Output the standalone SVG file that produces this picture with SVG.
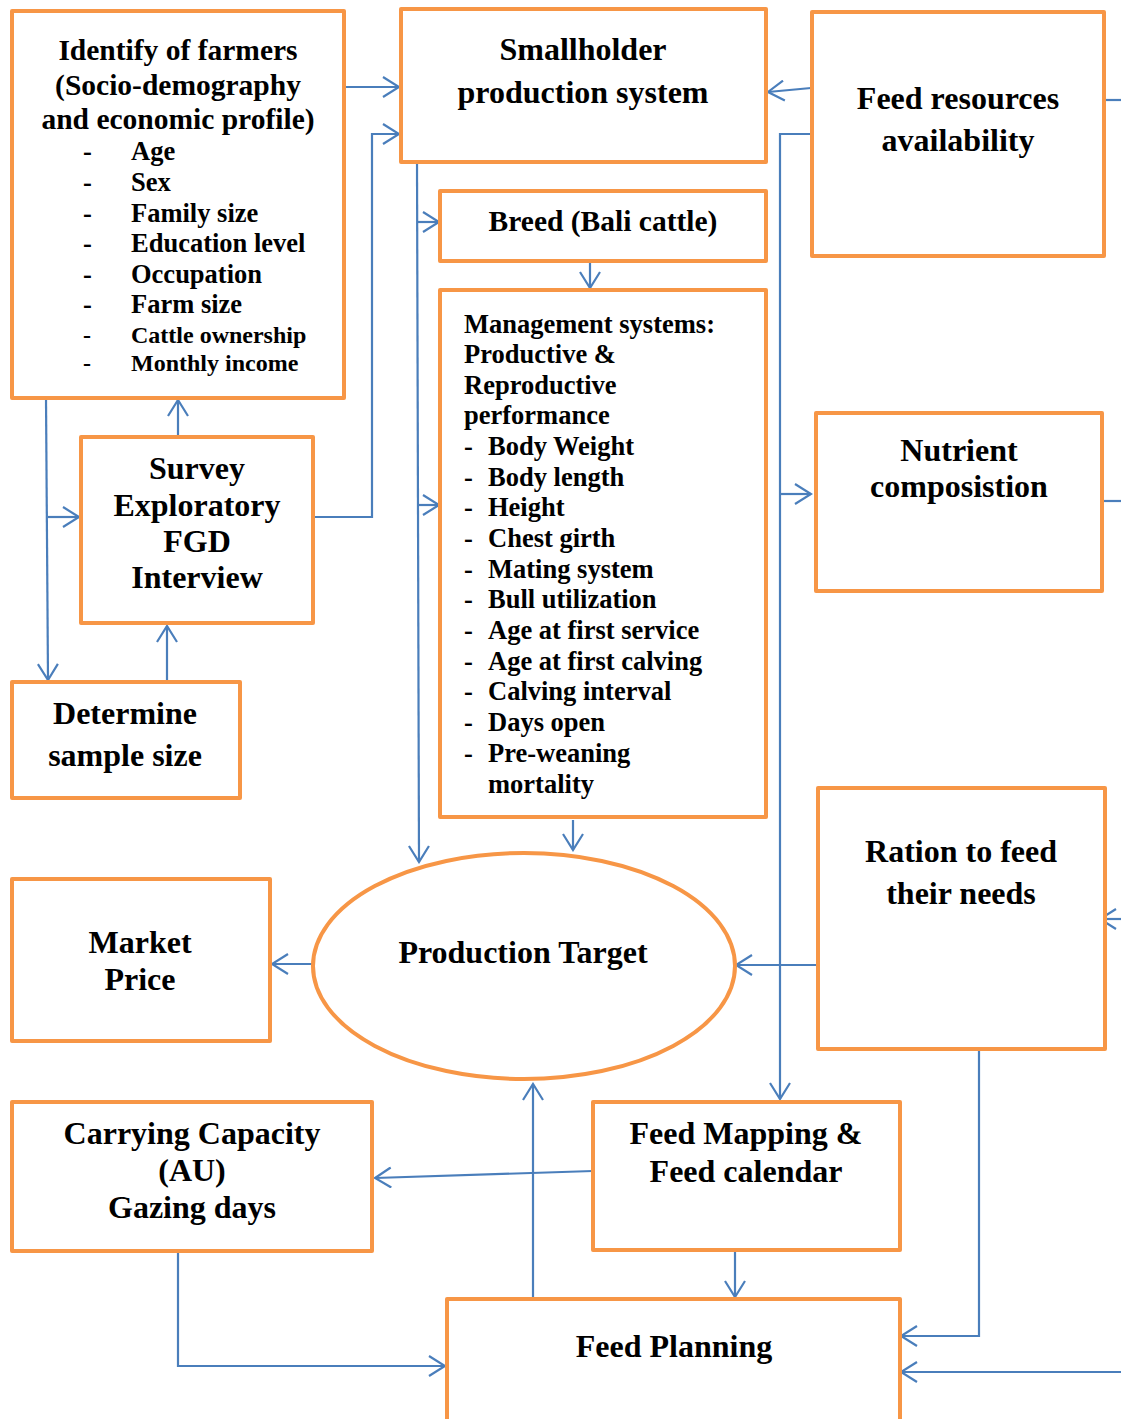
<svg xmlns="http://www.w3.org/2000/svg" width="1121" height="1419" viewBox="0 0 1121 1419">
<style>
.box{fill:#fff;stroke:#F79646;stroke-width:4;stroke-linejoin:round}
.c{fill:none;stroke:#4A7EBB;stroke-width:2.2}
.t{font-family:"Liberation Serif","Times New Roman",serif;font-weight:bold;fill:#000}
.big{font-size:32px;text-anchor:middle}
.mid{font-size:29.5px;text-anchor:middle}
.li{font-size:26.5px}
.ls{font-size:24px}
</style>
<defs>
<marker id="ah" markerUnits="userSpaceOnUse" markerWidth="20" markerHeight="22" viewBox="0 0 20 22" refX="18" refY="11" orient="auto">
<path d="M2,1 L18,11 L2,21" fill="none" stroke="#4A7EBB" stroke-width="2.2"/>
</marker>
</defs>
<rect width="1121" height="1419" fill="#fff"/>

<g id="connectors">
<path class="c" d="M344,87 H399" marker-end="url(#ah)"/>
<path class="c" d="M313,517 H372 V134 H399" marker-end="url(#ah)"/>
<path class="c" d="M417,162 L419,862" marker-end="url(#ah)"/>
<path class="c" d="M417,222 H439" marker-end="url(#ah)"/>
<path class="c" d="M418,505 H439" marker-end="url(#ah)"/>
<path class="c" d="M590,262 V288" marker-end="url(#ah)"/>
<path class="c" d="M573,820 V850" marker-end="url(#ah)"/>
<path class="c" d="M811,88 L768,92" marker-end="url(#ah)"/>
<path class="c" d="M811,134 H780 V1099" marker-end="url(#ah)"/>
<path class="c" d="M780,494 H811" marker-end="url(#ah)"/>
<path class="c" d="M1104,100 H1121"/>
<path class="c" d="M1102,501 H1121"/>
<path class="c" d="M1121,919 H1100" marker-end="url(#ah)"/>
<path class="c" d="M1121,1372 H901" marker-end="url(#ah)"/>
<path class="c" d="M818,965 H736" marker-end="url(#ah)"/>
<path class="c" d="M979,1051 V1336 H901" marker-end="url(#ah)"/>
<path class="c" d="M313,964 H272" marker-end="url(#ah)"/>
<path class="c" d="M46,398 L48,680" marker-end="url(#ah)"/>
<path class="c" d="M48,517 H79" marker-end="url(#ah)"/>
<path class="c" d="M178,437 V400" marker-end="url(#ah)"/>
<path class="c" d="M167,682 V626" marker-end="url(#ah)"/>
<path class="c" d="M593,1171 L375,1178" marker-end="url(#ah)"/>
<path class="c" d="M533,1298 V1084" marker-end="url(#ah)"/>
<path class="c" d="M735,1252 V1297" marker-end="url(#ah)"/>
<path class="c" d="M178,1252 V1366 H445" marker-end="url(#ah)"/>
</g>

<g id="identify">
<rect class="box" x="12" y="11" width="332" height="387"/>
<text class="t mid" x="178" y="60">Identify of farmers</text>
<text class="t mid" x="178" y="95">(Socio-demography</text>
<text class="t mid" x="178" y="129">and economic profile)</text>
<g class="t li">
<text x="83" y="160">-</text><text x="131" y="160">Age</text>
<text x="83" y="191">-</text><text x="131" y="191">Sex</text>
<text x="83" y="222">-</text><text x="131" y="222">Family size</text>
<text x="83" y="252">-</text><text x="131" y="252">Education level</text>
<text x="83" y="283">-</text><text x="131" y="283">Occupation</text>
<text x="83" y="313">-</text><text x="131" y="313">Farm size</text>
</g>
<g class="t ls">
<text x="83" y="343">-</text><text x="131" y="343">Cattle ownership</text>
<text x="83" y="371">-</text><text x="131" y="371">Monthly income</text>
</g>
</g>

<g id="smallholder">
<rect class="box" x="401" y="9" width="365" height="153"/>
<text class="t big" x="583" y="60">Smallholder</text>
<text class="t big" x="583" y="103">production system</text>
</g>

<g id="breed">
<rect class="box" x="440" y="191" width="326" height="70"/>
<text class="t mid" x="603" y="231">Breed (Bali cattle)</text>
</g>

<g id="management">
<rect class="box" x="440" y="290" width="326" height="527"/>
<g class="t li">
<text x="464" y="333">Management systems:</text>
<text x="464" y="363">Productive &amp;</text>
<text x="464" y="394">Reproductive</text>
<text x="464" y="424">performance</text>
<text x="464" y="455">-</text><text x="488" y="455">Body Weight</text>
<text x="464" y="486">-</text><text x="488" y="486">Body length</text>
<text x="464" y="516">-</text><text x="488" y="516">Height</text>
<text x="464" y="547">-</text><text x="488" y="547">Chest girth</text>
<text x="464" y="578">-</text><text x="488" y="578">Mating system</text>
<text x="464" y="608">-</text><text x="488" y="608">Bull utilization</text>
<text x="464" y="639">-</text><text x="488" y="639">Age at first service</text>
<text x="464" y="670">-</text><text x="488" y="670">Age at first calving</text>
<text x="464" y="700">-</text><text x="488" y="700">Calving interval</text>
<text x="464" y="731">-</text><text x="488" y="731">Days open</text>
<text x="464" y="762">-</text><text x="488" y="762">Pre-weaning</text>
<text x="488" y="793">mortality</text>
</g>
</g>

<g id="feed-resources">
<rect class="box" x="812" y="12" width="292" height="244"/>
<text class="t big" x="958" y="109">Feed resources</text>
<text class="t big" x="958" y="151">availability</text>
</g>

<g id="nutrient">
<rect class="box" x="816" y="413" width="286" height="178"/>
<text class="t big" x="959" y="461">Nutrient</text>
<text class="t big" x="959" y="497">composistion</text>
</g>

<g id="survey">
<rect class="box" x="81" y="437" width="232" height="186"/>
<text class="t big" x="197" y="479">Survey</text>
<text class="t big" x="197" y="516">Exploratory</text>
<text class="t big" x="197" y="552">FGD</text>
<text class="t big" x="197" y="588">Interview</text>
</g>

<g id="determine">
<rect class="box" x="12" y="682" width="228" height="116"/>
<text class="t big" x="125" y="724">Determine</text>
<text class="t big" x="125" y="766">sample size</text>
</g>

<g id="market">
<rect class="box" x="12" y="879" width="258" height="162"/>
<text class="t big" x="140" y="953">Market</text>
<text class="t big" x="140" y="990">Price</text>
</g>

<g id="production-target">
<ellipse cx="524" cy="966" rx="211" ry="113" fill="#fff" stroke="#F79646" stroke-width="4"/>
<text class="t big" x="523" y="963">Production Target</text>
</g>

<g id="ration">
<rect class="box" x="818" y="788" width="287" height="261"/>
<text class="t big" x="961" y="862">Ration to feed</text>
<text class="t big" x="961" y="904">their needs</text>
</g>

<g id="carrying">
<rect class="box" x="12" y="1102" width="360" height="149"/>
<text class="t big" x="192" y="1144">Carrying Capacity</text>
<text class="t big" x="192" y="1181">(AU)</text>
<text class="t big" x="192" y="1218">Gazing days</text>
</g>

<g id="feed-mapping">
<rect class="box" x="593" y="1102" width="307" height="148"/>
<text class="t big" x="746" y="1144">Feed Mapping &amp;</text>
<text class="t big" x="746" y="1182">Feed calendar</text>
</g>

<g id="feed-planning">
<rect class="box" x="447" y="1299" width="453" height="130"/>
<text class="t big" x="674" y="1357">Feed Planning</text>
</g>
</svg>
